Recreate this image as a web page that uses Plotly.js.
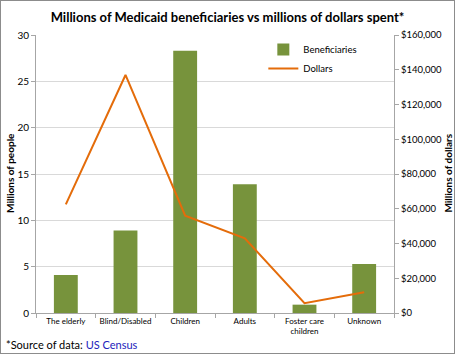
<!DOCTYPE html>
<html><head><meta charset="utf-8">
<script src="https://cdn.plot.ly/plotly-3.0.1.min.js"></script>
<style>
html,body{margin:0;padding:0;background:#fff;}
#wrap{position:relative;width:455px;height:354px;}
#frame{position:absolute;left:0;top:0;width:455px;height:354px;box-sizing:border-box;border:1px solid #8c8c8c;pointer-events:none;}
</style></head>
<body><div id="wrap"><div id="chart" style="width:455px;height:354px;"></div><div id="frame"></div></div>
<script>
const categories = ["The elderly","Blind/Disabled","Children","Adults","Foster care<br>children","Unknown"];
const beneficiaries = [4.1, 8.9, 28.3, 13.9, 0.9, 5.3];
const dollars = [62500, 137000, 56000, 43000, 5600, 12000];

const font = "Lato, Open Sans, sans-serif";
const traces = [
  {type:"bar", x:categories, y:beneficiaries, name:"Beneficiaries", marker:{color:"#77933c"}, width:0.4, yaxis:"y"},
  {type:"scatter", mode:"lines", x:categories, y:dollars, name:"Dollars", line:{color:"#e46c0a", width:2}, yaxis:"y2"}
];
const layout = {
  width:455, height:354,
  margin:{l:36, r:61, t:35, b:41},
  paper_bgcolor:"#fff", plot_bgcolor:"#fff",
  font:{family:font, color:"#595959", size:9},
  title:{text:"<b>Millions of Medicaid beneficiaries vs millions of dollars spent*</b>", font:{family:font, size:13, color:"#000"}, x:0.5, xanchor:"center", y:0.952, yanchor:"middle"},
  showlegend:true,
  legend:{x:0.635, y:1.0, xanchor:"left", yanchor:"top", bgcolor:"rgba(0,0,0,0)", font:{size:9.5, color:"#000"}, tracegroupgap:0, itemwidth:30},
  bargap:0.6,
  xaxis:{type:"category", showline:true, linecolor:"#a6a6a6", ticks:"outside", tickson:"boundaries", ticklen:4, tickcolor:"#a6a6a6", tickangle:0, tickfont:{size:8, color:"#000"}, showgrid:false, fixedrange:true},
  yaxis:{range:[0,30], dtick:5, showline:true, linecolor:"#a6a6a6", ticks:"outside", ticklen:4, tickcolor:"#a6a6a6", gridcolor:"#d9d9d9", tickfont:{size:10, color:"#000"}, zeroline:false},
  yaxis2:{overlaying:"y", side:"right", range:[0,160000], dtick:20000, tickprefix:"$", tickformat:",d", showline:true, linecolor:"#a6a6a6", ticks:"outside", ticklen:4, tickcolor:"#a6a6a6", showgrid:false, zeroline:false, tickfont:{size:9.5, color:"#000"}},
  annotations:[
    {text:"<b>Millions of people</b>", textangle:-90, xref:"paper", yref:"paper", x:-0.0726, y:0.504, xanchor:"center", yanchor:"middle", showarrow:false, font:{size:10, color:"#000"}},
    {text:"<b>Millions of dollars</b>", textangle:-90, xref:"paper", yref:"paper", x:1.15, y:0.504, xanchor:"center", yanchor:"middle", showarrow:false, font:{size:10, color:"#000"}},
    {text:"*Source of data: <span style='color:#2222bb'>US Census</span>", xref:"paper", yref:"paper", x:-0.09, y:-0.115, xanchor:"left", yanchor:"middle", showarrow:false, font:{size:11, color:"#000"}}
  ]
};
Plotly.newPlot("chart", traces, layout, {displayModeBar:false, staticPlot:true});
</script></body></html>
